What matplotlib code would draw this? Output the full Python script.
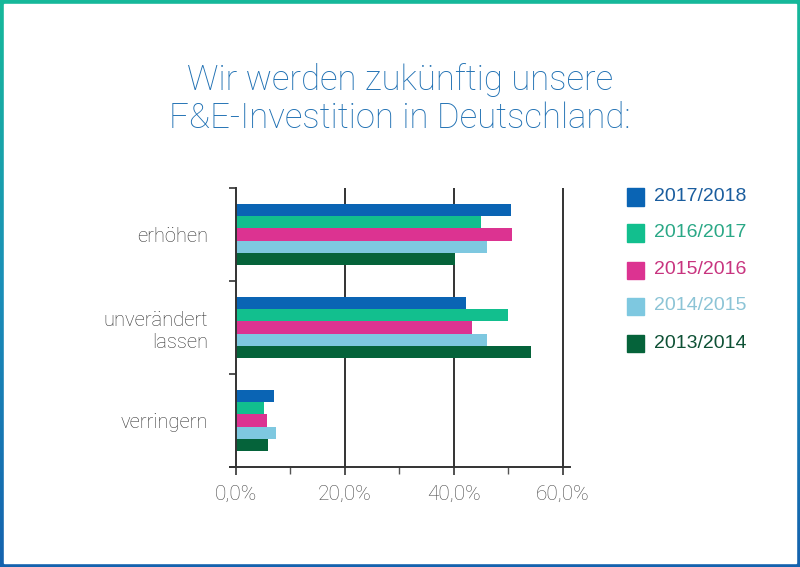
import matplotlib
matplotlib.use("Agg")
import matplotlib.pyplot as plt
import numpy as np
from matplotlib.patches import Rectangle
from matplotlib.colors import LinearSegmentedColormap

# ---- data ----
categories = ["erhöhen", "unverändert\nlassen", "verringern"]
series_labels = ["2017/2018", "2016/2017", "2015/2016", "2014/2015", "2013/2014"]
v_2017_2018 = [50.5, 42.2, 7.0]
v_2016_2017 = [44.9, 50.0, 5.2]
v_2015_2016 = [50.7, 43.3, 5.6]
v_2014_2015 = [46.1, 46.1, 7.4]
v_2013_2014 = [40.1, 54.1, 5.9]
series_values = [v_2017_2018, v_2016_2017, v_2015_2016, v_2014_2015, v_2013_2014]
series_colors = ["#0a64b4", "#12bf8e", "#dc3391", "#7ec8e0", "#05633a"]
legend_text_colors = ["#1a5d9e", "#2aa886", "#c8347f", "#8cc4d6", "#0e5135"]
x_ticks = [0, 20, 40, 60]
x_tick_labels = ["0,0%", "20,0%", "40,0%", "60,0%"]
x_minor = [10, 30, 50]
title = "Wir werden zukünftig unsere\nF&E-Investition in Deutschland:"

W, H = 800, 567
fig = plt.figure(figsize=(W / 100, H / 100), dpi=100)

# ---- gradient frame ----
bg = fig.add_axes([0, 0, 1, 1])
cmap = LinearSegmentedColormap.from_list("frame", ["#16b99a", "#1a8fb8", "#1462ae"])
grad = np.linspace(0, 1, 256).reshape(-1, 1)
bg.imshow(grad, aspect="auto", cmap=cmap, extent=[0, 1, 0, 1], origin="upper")
bg.add_patch(Rectangle((4 / W, 4 / H), 1 - 8 / W, 1 - 8 / H, color="white", transform=bg.transAxes))
bg.set_xlim(0, 1)
bg.set_ylim(0, 1)
bg.axis("off")

# ---- title ----
fig.text(0.5, 1 - 99 / H, title, ha="center", va="center", fontsize=25,
         color="#1f70b3", family=["Roboto", "DejaVu Sans"], fontweight="light",
         linespacing=1.2)

# ---- chart axes ----
left_px, right_px, top_px, bot_px = 230, 570, 188, 467
ax = fig.add_axes([left_px / W, 1 - bot_px / H, (right_px - left_px) / W, (bot_px - top_px) / H])
ax.set_facecolor("none")
xmin = -1.1
xmax = xmin + (right_px - left_px) / 5.45
ax.set_xlim(xmin, xmax)
ax.set_ylim(2.5, -0.5)

y = np.arange(len(categories))
h = 0.132
for i, (vals, col) in enumerate(zip(series_values, series_colors)):
    ax.barh(y + (i - 2) * h, vals, height=h, color=col, left=0, zorder=3)

for xt in x_ticks[1:]:
    ax.axvline(xt, color="#333333", lw=1.4, zorder=2)

for s in ["top", "right"]:
    ax.spines[s].set_visible(False)
ax.spines["left"].set_position(("data", 0))
ax.spines["left"].set_color("#333333")
ax.spines["bottom"].set_color("#333333")
ax.spines["left"].set_linewidth(1.4)
ax.spines["bottom"].set_linewidth(1.4)
ax.spines["left"].set_zorder(4)

ax.set_xticks(x_ticks)
ax.set_xticklabels(x_tick_labels)
ax.set_xticks(x_minor, minor=True)
ax.tick_params(axis="x", which="major", direction="out", length=6, width=1.2,
               color="#333333", pad=7, labelsize=15, labelcolor="#4a4a4a")
ax.tick_params(axis="x", which="minor", direction="out", length=5, width=1.0, color="#555555")
for lab in ax.get_xticklabels():
    lab.set_family(["Roboto", "DejaVu Sans"])
    lab.set_fontweight("light")

ax.set_yticks([-0.5, 0.5, 1.5, 2.5])
ax.set_yticklabels([])
ax.set_yticks(y, minor=True)
ax.set_yticklabels(categories, minor=True)
ax.tick_params(axis="y", which="major", direction="out", length=5, width=1.2, color="#333333")
ax.tick_params(axis="y", which="minor", length=0, pad=20, labelsize=14.5, labelcolor="#333333")
for lab in ax.get_yticklabels(minor=True):
    lab.set_family(["Roboto", "DejaVu Sans"])
    lab.set_fontweight("light")
    lab.set_horizontalalignment("right")
    lab.set_multialignment("right")

# ---- legend ----
leg_y = [197, 233, 270, 306, 343]
for lab, col, tcol, yy in zip(series_labels, series_colors, legend_text_colors, leg_y):
    fig.patches.append(Rectangle((627 / W, 1 - (yy + 8.5) / H), 17 / W, 17 / H,
                                 color=col, transform=fig.transFigure, figure=fig))
    fig.text(654 / W, 1 - yy / H, lab, ha="left", va="center", fontsize=14,
             color=tcol, family=["Liberation Sans", "DejaVu Sans"])

fig.savefig("out.png", dpi=100)
